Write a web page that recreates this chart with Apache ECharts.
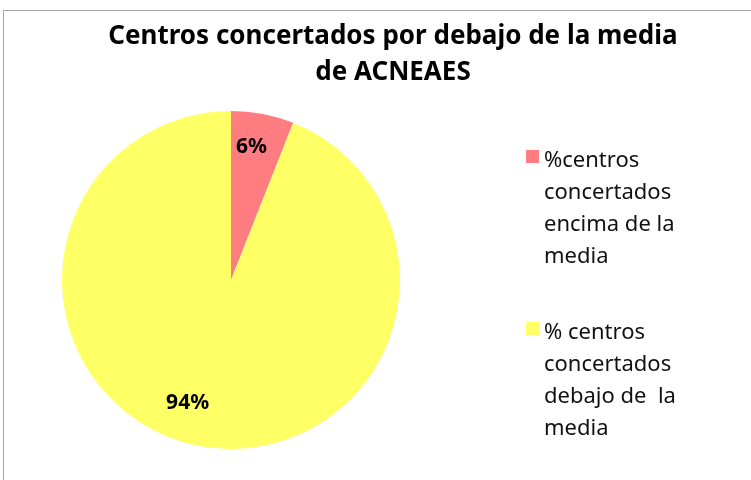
<!DOCTYPE html>
<html lang="es">
<head>
<meta charset="UTF-8">
<title>Centros concertados por debajo de la media de ACNEAES</title>
<script src="https://cdn.jsdelivr.net/npm/echarts@6/dist/echarts.min.js"></script>
<style>
  html, body { margin: 0; padding: 0; background: #fff; }
</style>
</head>
<body>
<div id="main" style="width: 751px;height: 480px;"></div>
<script>
  // datos
  var categorias = [
    '%centros concertados encima de la media',
    '% centros concertados debajo de  la media'
  ];
  var valores = [6, 94];
  var colores = ['#FF7C80', '#FFFF66'];

  var chartDom = document.getElementById('main');
  var myChart = echarts.init(chartDom);
  var option;

  var datos = categorias.map(function (c, i) {
    return { name: c, value: valores[i], itemStyle: { color: colores[i] } };
  });

  // desplazamiento de las etiquetas para parecerse al original
  var ajustes = [[4, -47], [-27, 37]];

  option = {
    animation: false,
    title: {
      text: 'Centros concertados por debajo de la media\nde ACNEAES',
      left: 388,
      top: 14,
      textAlign: 'center',
      textStyle: {
        fontFamily: 'Noto Sans',
        fontWeight: 'bold',
        fontSize: 26,
        lineHeight: 36,
        color: '#000'
      }
    },
    legend: {
      orient: 'vertical',
      left: 521,
      top: 140,
      itemWidth: 13,
      itemHeight: 128,
      itemGap: 44,
      icon: 'path://M0,0 M0,5h13v13h-13z M0,128',
      textStyle: {
        fontFamily: 'Noto Sans',
        fontSize: 22,
        lineHeight: 32,
        color: '#111',
        width: 150,
        overflow: 'break'
      },
      selectedMode: false
    },
    graphic: [{
      type: 'rect',
      silent: true,
      shape: { x: 3.5, y: 10.5, width: 800, height: 500 },
      style: { fill: 'none', stroke: '#a6a6a6', lineWidth: 1 }
    }],
    series: [{
      type: 'pie',
      center: [231, 280],
      radius: 169,
      startAngle: 90,
      clockwise: true,
      data: datos,
      label: {
        show: true,
        position: 'inside',
        formatter: '{c}%',
        fontFamily: 'Noto Sans',
        fontWeight: 'bold',
        fontSize: 21,
        color: '#000'
      },
      labelLine: { show: false },
      labelLayout: function (params) {
        var a = ajustes[params.dataIndex];
        return { dx: a[0], dy: a[1] };
      },
      emphasis: { disabled: true }
    }]
  };

  option && myChart.setOption(option);
</script>
</body>
</html>
